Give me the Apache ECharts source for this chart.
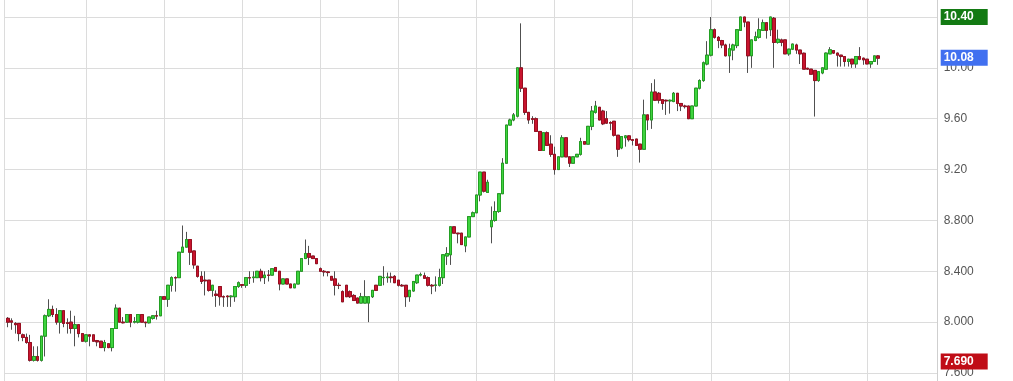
<!DOCTYPE html>
<html><head><meta charset="utf-8">
<script src="https://cdn.jsdelivr.net/npm/echarts@6/dist/echarts.min.js"></script>
<style>html,body{margin:0;padding:0;background:#fff}#c{width:1013px;height:381px}</style>
</head><body><div id="c"></div>
<script>
// ---- data ----
const openVals = [
8.03,8.01,7.99,7.99,7.90,7.88,7.84,7.70,7.73,7.70,
7.89,8.05,8.10,8.06,8.00,8.09,7.995,8.00,7.95,7.98,
7.91,7.85,7.90,7.90,7.855,7.85,7.80,7.83,7.80,7.95,
8.11,8.00,8.00,8.06,8.00,8.00,8.06,8.00,7.995,8.03,
8.05,8.05,8.20,8.18,8.29,8.35,8.35,8.55,8.59,8.65,
8.56,8.44,8.36,8.33,8.33,8.25,8.22,8.28,8.20,8.205,
8.20,8.20,8.28,8.295,8.29,8.35,8.35,8.35,8.40,8.35,
8.37,8.37,8.43,8.40,8.30,8.34,8.30,8.27,8.30,8.40,
8.50,8.54,8.52,8.50,8.42,8.40,8.395,8.36,8.34,8.29,
8.24,8.29,8.24,8.21,8.19,8.15,8.15,8.15,8.20,8.29,
8.29,8.35,8.35,8.355,8.36,8.33,8.29,8.29,8.20,8.245,
8.31,8.37,8.365,8.35,8.29,8.29,8.29,8.35,8.52,8.53,
8.75,8.70,8.70,8.60,8.67,8.83,8.86,9.00,9.18,9.02,
8.75,8.80,8.87,9.01,9.25,9.55,9.59,9.62,10.00,9.84,
9.65,9.60,9.60,9.50,9.35,9.49,9.40,9.32,9.20,9.30,
9.45,9.30,9.25,9.30,9.32,9.42,9.40,9.54,9.65,9.69,
9.66,9.60,9.57,9.58,9.47,9.37,9.45,9.465,9.435,9.44,
9.40,9.36,9.63,9.59,9.81,9.80,9.75,9.745,9.74,9.735,
9.80,9.72,9.70,9.70,9.60,9.70,9.84,9.90,10.03,10.10,
10.30,10.24,10.215,10.18,10.095,10.14,10.175,10.295,10.40,10.36,
10.095,10.215,10.24,10.295,10.355,10.30,10.39,10.20,10.22,10.22,
10.11,10.147,10.18,10.14,10.115,9.997,9.99,9.98,9.90,9.96,
9.99,10.11,10.136,10.116,10.10,10.089,10.05,10.068,10.031,10.089,
10.076,10.068,10.031,10.05,10.094];
const closeVals = [
8.00,8.00,7.98,7.91,7.88,7.84,7.70,7.73,7.70,7.89,
8.05,8.10,8.06,8.00,8.09,7.99,7.99,7.95,7.98,7.91,
7.85,7.90,7.89,7.85,7.845,7.80,7.84,7.80,7.95,8.11,
8.00,7.995,8.06,8.00,8.005,8.06,8.00,7.995,8.04,8.05,
8.048,8.20,8.18,8.29,8.35,8.348,8.55,8.59,8.65,8.55,
8.45,8.36,8.32,8.325,8.25,8.29,8.21,8.20,8.198,8.20,
8.205,8.28,8.31,8.29,8.35,8.348,8.355,8.40,8.35,8.37,
8.368,8.42,8.40,8.30,8.34,8.30,8.27,8.30,8.40,8.50,
8.54,8.51,8.50,8.46,8.40,8.395,8.39,8.33,8.29,8.288,
8.16,8.20,8.20,8.17,8.15,8.20,8.20,8.20,8.25,8.25,
8.36,8.352,8.355,8.35,8.31,8.29,8.285,8.20,8.25,8.32,
8.37,8.375,8.345,8.29,8.285,8.292,8.35,8.53,8.54,8.75,
8.70,8.695,8.61,8.67,8.83,8.86,9.00,9.18,9.03,9.10,
8.80,8.87,9.01,9.25,9.55,9.59,9.63,10.00,9.84,9.65,
9.59,9.595,9.50,9.35,9.49,9.39,9.32,9.20,9.30,9.45,
9.30,9.25,9.30,9.32,9.42,9.40,9.54,9.66,9.70,9.59,
9.56,9.565,9.565,9.47,9.36,9.46,9.465,9.435,9.43,9.39,
9.36,9.63,9.59,9.81,9.745,9.745,9.72,9.74,9.745,9.80,
9.72,9.70,9.695,9.60,9.70,9.84,9.90,10.04,10.10,10.30,
10.24,10.215,10.18,10.095,10.15,10.18,10.30,10.40,10.36,10.095,
10.22,10.245,10.30,10.355,10.295,10.40,10.20,10.225,10.20,10.11,
10.147,10.187,10.14,10.11,9.99,9.99,9.95,9.90,9.97,10.00,
10.116,10.142,10.116,10.10,10.089,10.05,10.068,10.031,10.089,10.068,
10.063,10.031,10.05,10.094,10.076];
const lowVals = [
7.96,7.94,7.91,7.85,7.85,7.83,7.69,7.69,7.69,7.69,
7.73,8.04,8.04,7.98,7.91,7.96,7.91,7.91,7.81,7.88,
7.85,7.84,7.81,7.85,7.81,7.80,7.77,7.795,7.77,7.95,
8.00,7.99,7.995,7.96,7.99,7.99,8.00,7.96,7.99,8.02,
8.02,8.05,8.18,8.12,8.24,8.24,8.35,8.55,8.59,8.45,
8.42,8.35,8.30,8.21,8.24,8.20,8.12,8.13,8.12,8.12,
8.12,8.16,8.27,8.27,8.27,8.30,8.31,8.35,8.32,8.30,
8.32,8.37,8.40,8.25,8.30,8.30,8.27,8.27,8.30,8.40,
8.50,8.45,8.50,8.46,8.40,8.36,8.36,8.33,8.21,8.26,
8.16,8.20,8.19,8.17,8.15,8.15,8.15,8.00,8.19,8.25,
8.29,8.29,8.31,8.31,8.31,8.28,8.28,8.12,8.16,8.24,
8.30,8.36,8.34,8.28,8.22,8.24,8.28,8.30,8.45,8.45,
8.70,8.62,8.61,8.55,8.67,8.83,8.86,8.95,9.02,9.02,
8.62,8.79,8.86,9.01,9.25,9.55,9.58,9.61,9.81,9.63,
9.56,9.56,9.50,9.35,9.35,9.39,9.30,9.16,9.20,9.30,
9.30,9.22,9.25,9.30,9.31,9.40,9.40,9.51,9.64,9.59,
9.55,9.56,9.51,9.46,9.30,9.36,9.38,9.42,9.39,9.39,
9.255,9.36,9.51,9.52,9.74,9.72,9.67,9.63,9.64,9.73,
9.66,9.66,9.68,9.60,9.60,9.70,9.83,9.89,10.02,10.09,
10.23,10.155,10.155,10.09,9.96,10.06,10.155,10.29,10.32,9.96,
10.00,10.21,10.23,10.29,10.23,10.25,10.00,10.19,10.17,10.11,
10.095,10.14,10.11,10.03,9.99,9.985,9.95,9.617,9.89,9.95,
9.99,10.11,10.11,10.01,10.01,10.01,10.01,10.00,10.00,10.06,
10.024,10.03,10.00,10.05,10.024];
const highVals = [
8.04,8.03,8.00,7.99,7.91,7.91,7.90,7.81,7.81,7.89,
8.06,8.18,8.13,8.11,8.09,8.09,8.03,8.09,8.05,7.98,
7.91,7.90,7.90,7.90,7.86,7.85,7.86,7.835,7.95,8.14,
8.11,8.04,8.06,8.06,8.04,8.06,8.06,8.00,8.04,8.055,
8.09,8.20,8.20,8.29,8.36,8.36,8.55,8.76,8.71,8.65,
8.56,8.44,8.40,8.40,8.33,8.29,8.25,8.28,8.21,8.21,
8.21,8.28,8.32,8.30,8.35,8.40,8.40,8.40,8.42,8.40,
8.41,8.42,8.43,8.40,8.34,8.34,8.30,8.30,8.40,8.50,
8.65,8.60,8.52,8.50,8.43,8.41,8.40,8.36,8.40,8.31,
8.25,8.29,8.25,8.22,8.19,8.23,8.33,8.20,8.25,8.29,
8.36,8.44,8.39,8.39,8.37,8.33,8.30,8.29,8.25,8.32,
8.37,8.39,8.39,8.36,8.30,8.36,8.42,8.53,8.59,8.75,
8.75,8.70,8.70,8.67,8.83,8.87,9.00,9.18,9.18,9.12,
8.91,8.95,9.01,9.29,9.55,9.60,9.645,10.00,10.35,9.84,
9.65,9.62,9.61,9.50,9.49,9.50,9.47,9.38,9.30,9.47,
9.45,9.30,9.30,9.32,9.45,9.42,9.54,9.70,9.74,9.69,
9.67,9.66,9.58,9.58,9.47,9.46,9.47,9.47,9.44,9.44,
9.40,9.75,9.63,9.88,9.91,9.81,9.75,9.75,9.75,9.81,
9.80,9.72,9.71,9.70,9.70,9.84,9.91,10.05,10.21,10.40,
10.31,10.25,10.22,10.19,10.19,10.19,10.30,10.40,10.40,10.36,
10.22,10.285,10.39,10.38,10.36,10.40,10.40,10.30,10.23,10.22,
10.15,10.19,10.19,10.14,10.12,10.00,9.99,9.98,9.97,10.00,
10.12,10.163,10.14,10.12,10.10,10.09,10.07,10.07,10.09,10.163,
10.08,10.07,10.05,10.094,10.10];
const tickLabels = ['7.600','8.000','8.400','8.800','9.20','9.60','10.00','10.40'];
const markerValues = [10.40, 10.08, 7.69];
const markerTexts = ['10.40','10.08','7.690'];
const markerColors = ['#137a13','#4170f0','#c00d17'];
const padBefore = 1, padAfter = 16;
const categories = [];
for (let i = 0; i < padBefore + openVals.length + padAfter; i++) categories.push('d' + i);

// ---- build series data ----
const fullData = [['-','-','-','-']];
const bodyData = [['-','-','-','-']];
for (let i = 0; i < openVals.length; i++) {
  const o = openVals[i], c = closeVals[i];
  fullData.push([o, c, lowVals[i], highVals[i]]);
  bodyData.push([o, c, Math.min(o, c), Math.max(o, c)]);
}
const gridLineIdx = (idx) => idx === 0 || (idx >= 22 && (idx - 1) % 21 === 0);
const FONT = 'Liberation Sans, Arial, sans-serif';

const chart = echarts.init(document.getElementById('c'), null, {renderer: 'canvas'});
chart.setOption({
  animation: false,
  backgroundColor: '#fff',
  grid: [
    {left: 4.2, right: 75.3, top: 17, bottom: 8},
    {left: 4.2, right: 75.3, top: 0, bottom: 0}
  ],
  xAxis: [
    {type: 'category', gridIndex: 0, data: categories, boundaryGap: false,
     axisLine: {show: false}, axisTick: {show: false}, axisLabel: {show: false}, splitLine: {show: false}},
    {type: 'category', gridIndex: 1, data: categories, boundaryGap: false,
     axisLine: {show: false}, axisTick: {show: false}, axisLabel: {show: false},
     splitLine: {show: true, interval: gridLineIdx, lineStyle: {color: '#dcdcdc', width: 1}}}
  ],
  yAxis: [
    {type: 'value', gridIndex: 0, position: 'right', min: 7.6, max: 10.4, interval: 0.4,
     axisLine: {show: false}, axisTick: {show: false},
     axisLabel: {color: '#555', fontSize: 12, fontFamily: FONT, margin: 6,
       formatter: (v) => tickLabels[Math.round((v - 7.6) / 0.4)]},
     splitLine: {show: true, lineStyle: {color: '#dcdcdc', width: 1}}},
    {type: 'value', gridIndex: 1, position: 'right', min: 0, max: 1,
     axisLine: {show: true, lineStyle: {color: '#cfcfcf', width: 1}}, axisTick: {show: false},
     axisLabel: {show: false}, splitLine: {show: false}}
  ],
  series: [
    {type: 'candlestick', name: 'wick', xAxisIndex: 0, yAxisIndex: 0, data: fullData, barWidth: 3,
     itemStyle: {color: '#505050', color0: '#505050', borderColor: '#505050', borderColor0: '#505050', borderColorDoji: '#505050', borderWidth: 1},
     silent: true},
    {type: 'candlestick', name: 'body', xAxisIndex: 0, yAxisIndex: 0, data: bodyData, barWidth: 3,
     itemStyle: {color: '#3ed43e', color0: '#c8142e', borderColor: '#23a023', borderColor0: '#9a0e20', borderColorDoji: '#505050', borderWidth: 1},
     silent: true,
     markLine: {
       symbol: ['none', 'none'], silent: true, animation: false, z: 10,
       lineStyle: {color: 'rgba(0,0,0,0)', width: 1, type: 'solid'},
       label: {show: true},
       data: markerValues.map((v, i) => ({
         yAxis: v,
         lineStyle: {color: 'rgba(0,0,0,0)'},
         label: {show: true, position: 'end', distance: 3, formatter: markerTexts[i],
           backgroundColor: markerColors[i], color: '#fff', fontSize: 12, fontWeight: 'bold',
           fontFamily: FONT, padding: [2, 4, 1, 3], width: 40, lineHeight: 13, align: 'left'}
       }))
     }}
  ]
});
</script></body></html>
